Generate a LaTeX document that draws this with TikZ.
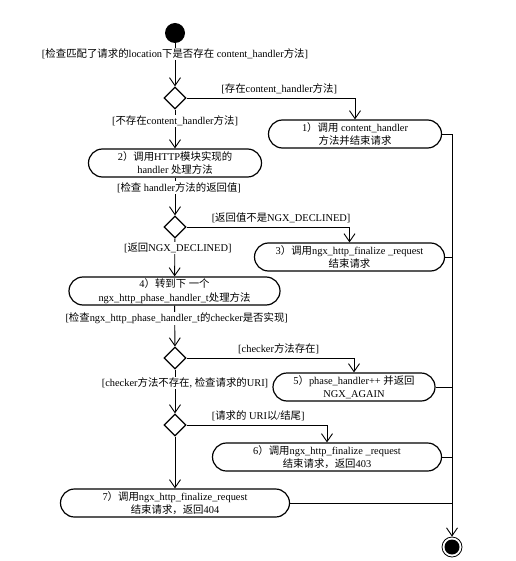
\documentclass[tikz,border=0pt]{standalone}
\usepackage{fontspec}
\setmainfont{Liberation Serif}
\newfontfamily\enfont{Liberation Serif}
\newfontfamily\zhfont{Noto Sans CJK SC}
\usetikzlibrary{arrows.meta,shapes.geometric}

% chinese characters -> CJK font
\newXeTeXintercharclass\zhclass
\newcount\zhcode
\def\setzh#1#2{\zhcode=#1 \loop\XeTeXcharclass\zhcode=\zhclass \ifnum\zhcode<#2 \advance\zhcode by 1 \repeat}
\setzh{"3000}{"303F}
\setzh{"4E00}{"9FFF}
\setzh{"FF00}{"FFEF}
\XeTeXinterchartoks 0 \zhclass = {\zhfont}
\XeTeXinterchartoks 4095 \zhclass = {\zhfont}
\XeTeXinterchartoks \zhclass 0 = {\enfont}
\XeTeXinterchartoks \zhclass 4095 = {\enfont}
\XeTeXinterchartokenstate=1

\tikzset{
  act/.style={draw, line width=1.2pt, rounded corners=14pt, minimum height=28pt, minimum width=#1, align=center, inner sep=0pt},
  choice/.style={draw, diamond, line width=1.2pt, minimum width=22pt, minimum height=22pt, inner sep=0pt},
  guard/.style={fill=white, inner sep=1pt},
  startdot/.style={circle, fill, minimum size=20pt, inner sep=0pt},
  enddot/.style={circle, draw, line width=0.8pt, minimum size=20pt, inner sep=0pt,
    path picture={\fill (path picture bounding box.center) circle (7.5pt);}},
  flow/.style={->, line width=0.9pt},
  link/.style={line width=0.9pt},
}

\begin{document}
\begin{tikzpicture}[x=1pt,y=-1pt,>={Straight Barb[length=8pt,width=11pt]},
  font=\fontsize{10.4}{13.5}\selectfont]
\useasboundingbox (0,0) rectangle (515,561);

% etats
\node[startdot] (start) at (175,33) {};
\node[choice] (d1) at (175,98) {};
\node[act=173pt] (a1) at (355,134) {1）调用 content\_handler\\方法并结束请求};
\node[act=173pt] (a2) at (175,163) {2）调用HTTP模块实现的\\handler 处理方法};
\node[choice] (d2) at (175,227) {};
\node[act=190pt] (a3) at (349.5,257) {3）调用ngx\_http\_finalize \_request\\结束请求};
\node[act=211pt] (a4) at (174.5,291) {4）转到下 一个\\ngx\_http\_phase\_handler\_t处理方法};
\node[choice] (d3) at (175,358) {};
\node[act=162pt] (a5) at (354,387) {5）phase\_handler++ 并返回\\NGX\_AGAIN};
\node[choice] (d4) at (175,425) {};
\node[act=229pt] (a6) at (327,457) {6）调用ngx\_http\_finalize \_request\\结束请求，返回403};
\node[act=229pt] (a7) at (175,503) {7）调用ngx\_http\_finalize\_request\\结束请求，返回404};
\node[enddot] (stop) at (452,547) {};

% branche principale
\draw[flow] (start) -- node[guard,pos=0.25] {[检查匹配了请求的location下是否存在 content\_handler方法]} (d1);
\draw[flow] (d1) -- node[guard,pos=0.3] {[不存在content\_handler方法]} (a2);
\draw[flow] (a2) -- node[guard,pos=0.26,xshift=4pt] {[检查 handler方法的返回值]} (d2);
\draw[flow] (d2) -- node[guard,pos=0.26,xshift=3pt] {[返回NGX\_DECLINED]} (a4);
\draw[flow] (a4) -- node[guard,pos=0.31,xshift=2pt] {[检查ngx\_http\_phase\_handler\_t的checker是否实现]} (d3);
\draw[flow] (d3) -- node[guard,pos=0.31,xshift=10pt] {[checker方法不存在, 检查请求的URI]} (d4);
\draw[flow] (d4) -- (a7);

% branches a droite
\draw[flow] (d1.east) -| node[above,pos=0.275] {[存在content\_handler方法]} (a1.north);
\draw[flow] (d2.east) -| node[above,pos=0.29] {[返回值不是NGX\_DECLINED]} (a3.north);
\draw[flow] (d3.east) -| node[above,pos=0.275] {[checker方法存在]} (a5.north);
\draw[flow] (d4.east) -| node[above,pos=0.255] {[请求的 URI以/结尾]} (a6.north);

% fin
\draw[flow] (a1.east) -| (stop.north);
\draw[link] (a3.east) -- (a3.east -| stop);
\draw[link] (a5.east) -- (a5.east -| stop);
\draw[link] (a6.east) -- (a6.east -| stop);
\draw[link] (a7.east) -- (a7.east -| stop);

\end{tikzpicture}
\end{document}
